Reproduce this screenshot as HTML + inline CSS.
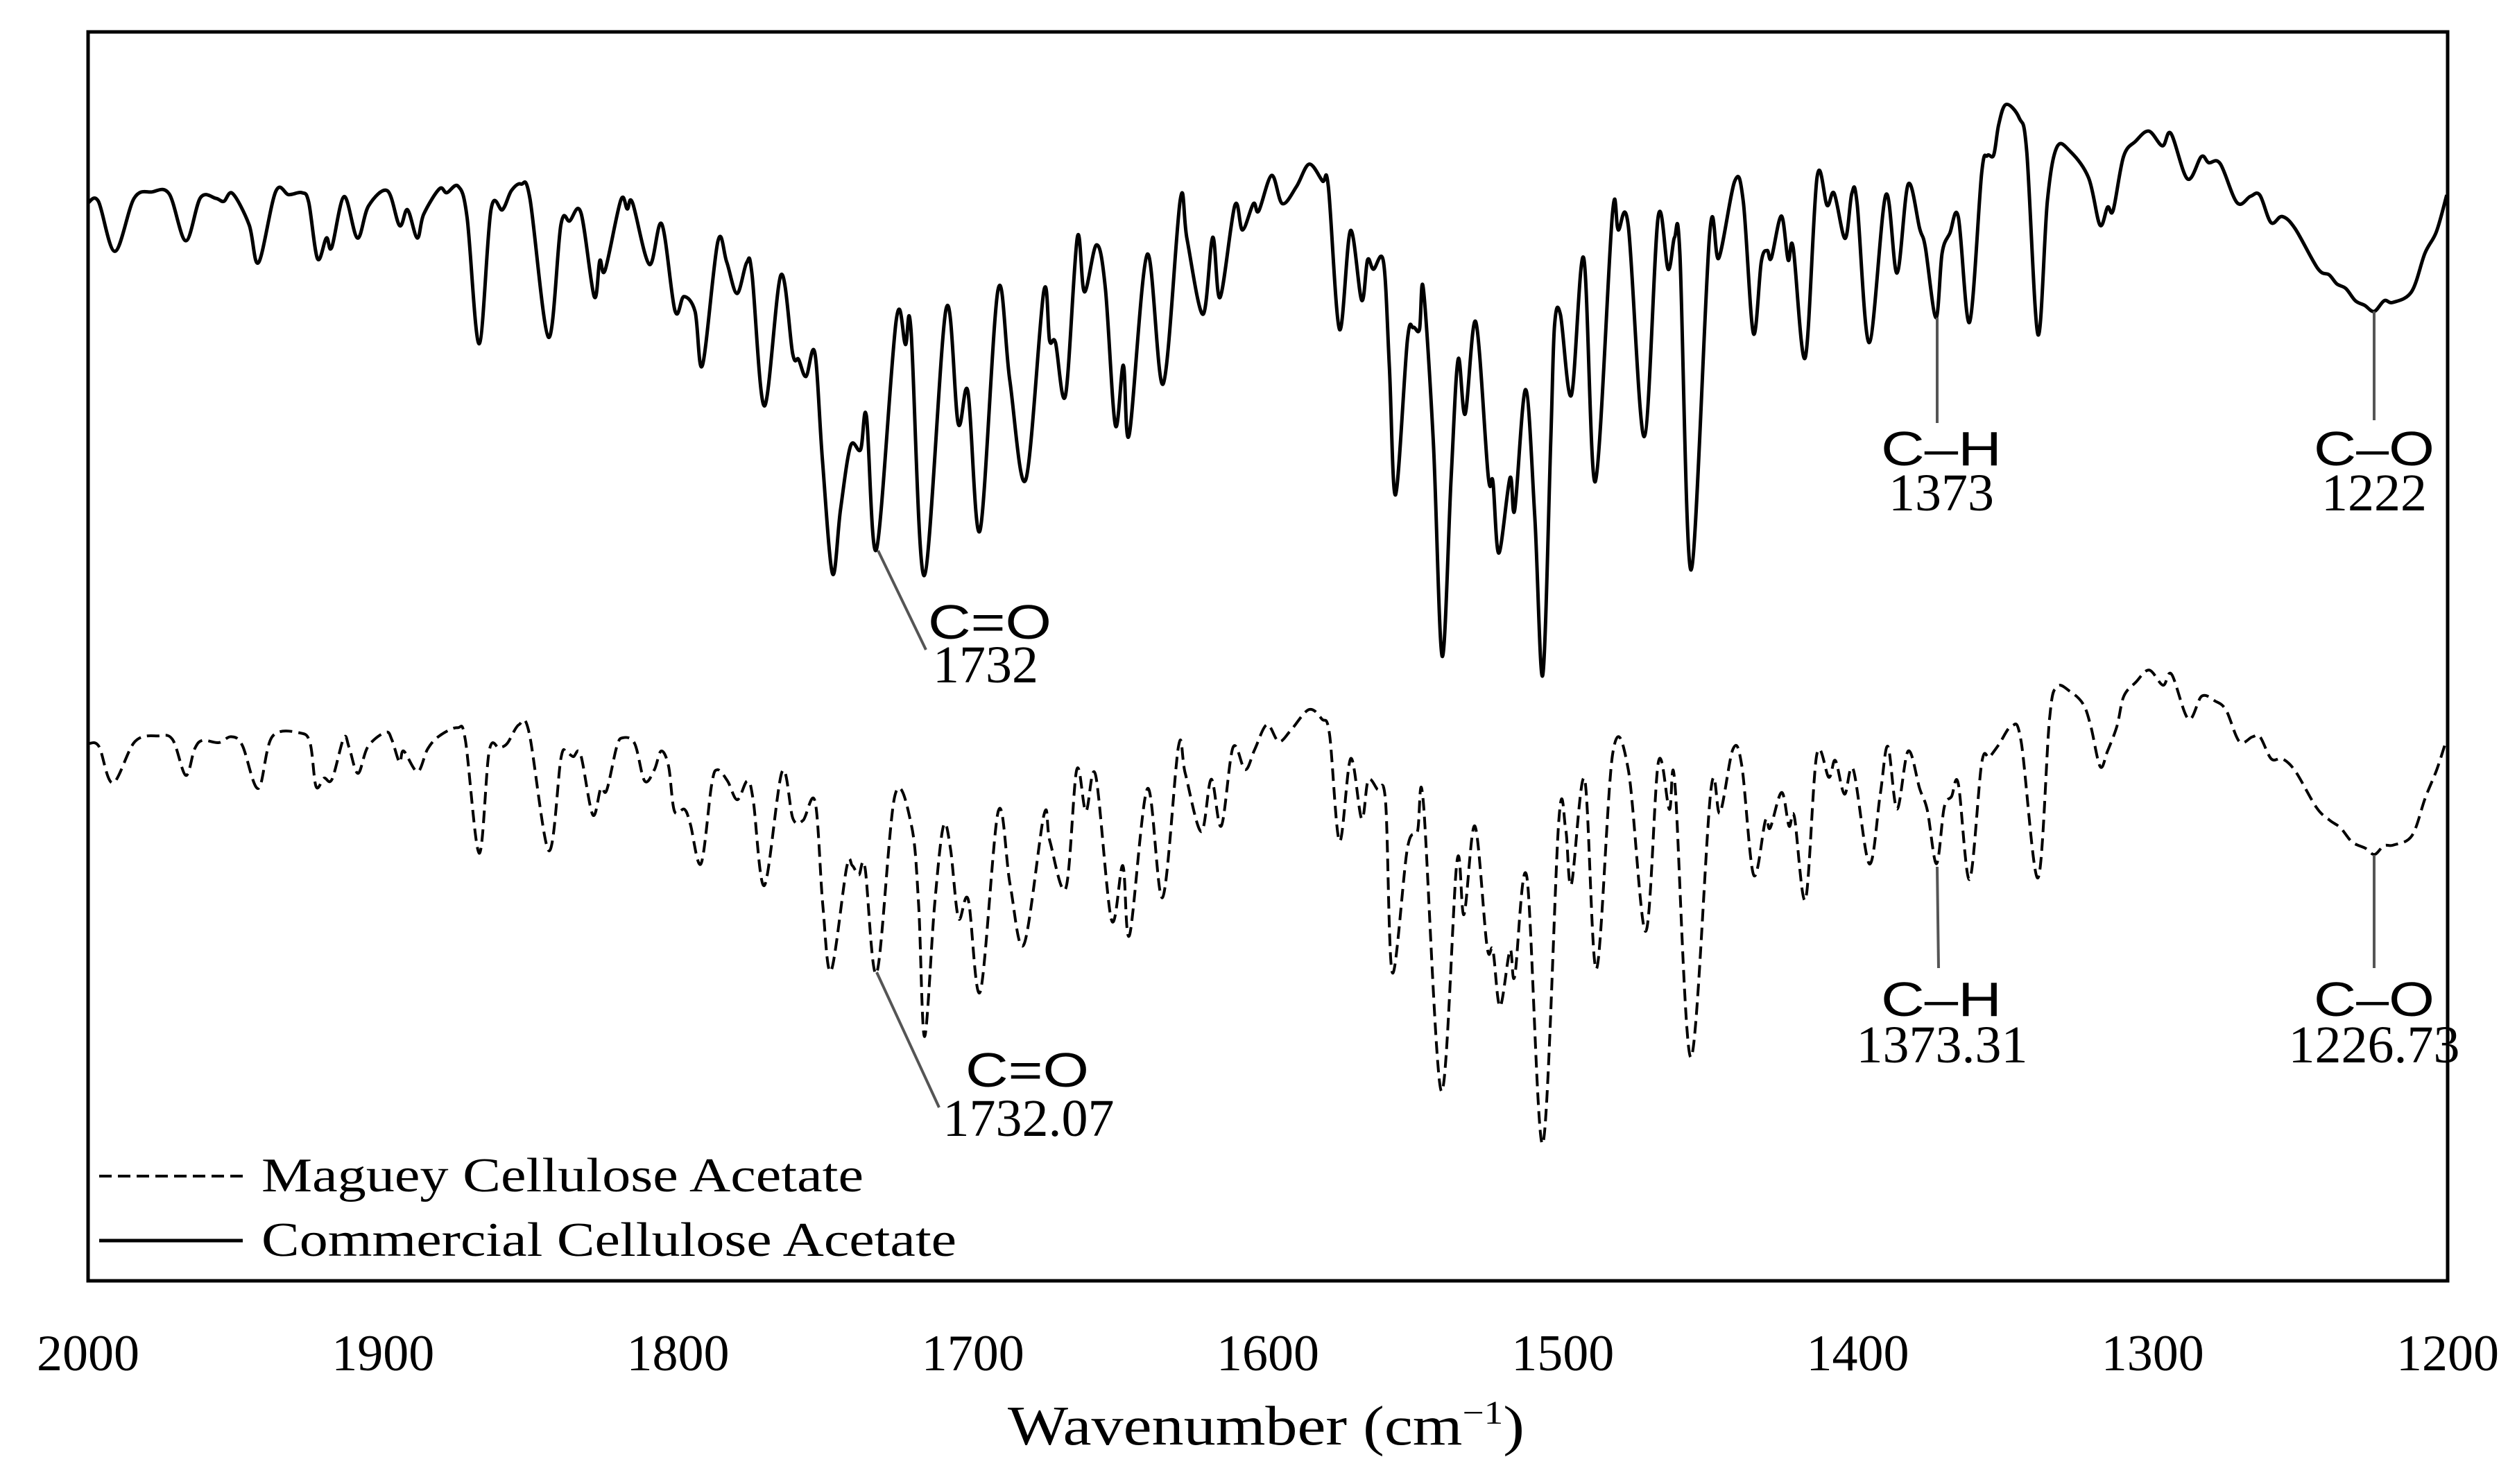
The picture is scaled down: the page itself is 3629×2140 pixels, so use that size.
<!DOCTYPE html>
<html><head><meta charset="utf-8"><style>
html,body{margin:0;padding:0;background:#fff;}
svg{display:block;}
.tick{font-family:"Liberation Serif",serif;font-size:74px;fill:#000;}
.serif{font-family:"Liberation Serif",serif;fill:#000;}
.sans{font-family:"Liberation Sans",sans-serif;fill:#000;}
</style></head><body>
<svg id="chart" width="3629" height="2140" viewBox="0 0 3629 2140" xmlns="http://www.w3.org/2000/svg">
<rect x="0" y="0" width="3629" height="2140" fill="#fff"/>
<g id="series"></g>
<rect x="127" y="46" width="3402" height="1801" fill="none" stroke="#000" stroke-width="5"/>
<g id="ticks"></g>
<text class="serif" x="1453" y="2083" font-size="80" textLength="745" lengthAdjust="spacingAndGlyphs">Wavenumber (cm<tspan font-size="48" dy="-30">−1</tspan><tspan dy="30">)</tspan></text>
<g>
<line x1="143" y1="1696" x2="350" y2="1696" stroke="#000" stroke-width="4" stroke-dasharray="18,9"/>
<text class="serif" x="377" y="1718" font-size="70" textLength="868" lengthAdjust="spacingAndGlyphs">Maguey Cellulose Acetate</text>
<line x1="143" y1="1789" x2="350" y2="1789" stroke="#000" stroke-width="5"/>
<text class="serif" x="377" y="1811" font-size="70" textLength="1002" lengthAdjust="spacingAndGlyphs">Commercial Cellulose Acetate</text>
</g>
<g stroke="#555" stroke-width="4">
<line x1="1266" y1="794" x2="1335" y2="937"/>
<line x1="2793" y1="458" x2="2793" y2="610"/>
<line x1="3423" y1="449" x2="3423" y2="606"/>
<line x1="1264" y1="1402" x2="1354" y2="1597"/>
<line x1="2793" y1="1250" x2="2795" y2="1396"/>
<line x1="3423" y1="1233" x2="3423" y2="1396"/>
</g>
<g>
<text class="sans" x="1338" y="921" font-size="70" textLength="178" lengthAdjust="spacingAndGlyphs">C=O</text>
<text class="serif" x="1421" y="984" font-size="76" text-anchor="middle">1732</text>
<text class="sans" x="2712" y="671" font-size="70" textLength="174" lengthAdjust="spacingAndGlyphs">C–H</text>
<text class="serif" x="2799" y="736" font-size="76" text-anchor="middle">1373</text>
<text class="sans" x="3336" y="671" font-size="70" textLength="174" lengthAdjust="spacingAndGlyphs">C–O</text>
<text class="serif" x="3423" y="736" font-size="76" text-anchor="middle">1222</text>
<text class="sans" x="1392" y="1567" font-size="70" textLength="178" lengthAdjust="spacingAndGlyphs">C=O</text>
<text class="serif" x="1483" y="1638" font-size="76" text-anchor="middle">1732.07</text>
<text class="sans" x="2712" y="1465" font-size="70" textLength="174" lengthAdjust="spacingAndGlyphs">C–H</text>
<text class="serif" x="2800" y="1532" font-size="76" text-anchor="middle">1373.31</text>
<text class="sans" x="3336" y="1465" font-size="70" textLength="174" lengthAdjust="spacingAndGlyphs">C–O</text>
<text class="serif" x="3423" y="1532" font-size="76" text-anchor="middle">1226.73</text>
</g>
</svg>
<script>
var tickValues=[2000,1900,1800,1700,1600,1500,1400,1300,1200];
var tickLabels=["2000","1900","1800","1700","1600","1500","1400","1300","1200"];
var commercialWave=[2000,1996.5,1990.9,1984.4,1978.4,1972.5,1966.9,1961.9,1956.7,1954.0,1951.0,1945.4,1942.2,1936.4,1932.0,1927.5,1925.2,1922.2,1919.2,1917.4,1913.2,1908.7,1904.9,1898.5,1894.4,1891.7,1888.4,1886.2,1880.9,1878.4,1874.5,1871.5,1867.4,1863.4,1859.5,1856.5,1853.2,1850.2,1843.9,1839.7,1836.7,1832.9,1828.4,1826.5,1824.7,1819.4,1817.2,1815.4,1809.7,1805.5,1801.0,1798.0,1794.2,1791.7,1786.5,1783.5,1780.0,1776.7,1774.9,1770.7,
1765.1,1761.1,1759.1,1756.6,1753.6,1751.0,1747.6,1744.9,1741.5,1738.1,1736.1,1732.7,1726.0,1722.9,1721.0,1716.5,1709.1,1705.0,1701.7,1697.6,1691.5,1687.5,1682.1,1676.0,1674.0,1672.0,1668.6,1664.6,1662.2,1658.1,1655.1,1651.7,1649.0,1647.0,1640.9,1635.5,1629.7,1627.4,1622.0,1618.7,1616.2,1611.2,1608.6,1604.9,1603.1,1598.7,1595.1,1590.3,1586.0,1581.5,1579.5,
1575.7,1572.0,1568.2,1566.2,1564.2,1560.8,1558.8,1556.7,1552.7,1550.7,1548.6,1547.3,1543.9,1540.9,1537.9,1535.5,1533.1,1529.5,1525.3,1523.7,1521.7,1517.9,1516.3,1512.6,1509.5,1506.8,1504.1,1502.8,1500.8,1497.1,1492.9,1489.0,1483.2,1481.2,1477.8,1472.4,1467.7,1464.3,1462.1,1460.3,1456.5,1450.2,1447.1,1441.7,1438.8,1435.4,1432.7,1430.7,1429.3,1425.9,1423.6,1421.9,1417.8,1413.8,1410.4,1408.0,1404.3,1402.0,1400.2,1396.1,
1390.5,1386.7,1382.9,1379.0,1377.1,1373.5,1371.4,1368.8,1365.9,1362.1,1358.0,1356.1,1353.9,1352.2,1349.7,1345.2,1342.7,1338.9,1335.7,1332.5,1328.0,1321.7,1317.9,1315.3,1313.4,1309.9,1305.8,1301.3,1296.7,1293.8,1288.2,1283.5,1281.0,1277.1,1271.4,1266.9,1263.7,1259.9,1256.1,1251.7,1244.0,1240.2,1237.6,1234.5,1231.3,1228.1,1224.9,1221.5,1218.5,1212.2,1207.7,1203.8,1200.3];
var commercialDepth=[126.4,125.5,156.6,123.6,119.6,120.8,150,123.2,123.6,125.5,120.6,140.1,163.6,119.4,121.3,120.1,126,161.3,148.3,154.2,122.5,148.3,128.3,118.9,140.6,130.7,148.3,133.5,117.7,120.1,116.1,135.4,214.2,130.7,130.7,118.9,114.7,123.6,210.2,140.1,137.7,132.6,184.8,162.4,168.3,124.8,130.2,126.4,164.8,139.6,193.7,184.8,194.2,227.6,150.7,163.2,182.9,163.6,170.7,253,
171.4,220.5,224,234.6,219.8,287.3,357.5,317.7,277.9,280.3,259.2,342.3,199.5,214.7,205.3,358.7,192.4,263.9,244,330.6,180.7,236.9,299,181.9,212.3,213.5,246.3,147.9,181.9,152.6,179.6,265,227.6,270.9,158.5,239.3,124.5,149.1,195.9,147.9,185.4,128,143.3,126.9,131.5,109.3,126.9,116.3,102.3,112.8,116.3,
205.3,143.7,187.1,162,167.8,163.2,228.7,308.4,212.3,204.1,205.3,179.6,275.6,409,299,224,258,200.6,296.6,300.2,344.7,297.8,317.7,242.8,322.4,420.8,275.6,203,196,246.3,160.8,300.2,133.9,143.3,140.9,272.1,135.5,167.8,147.9,158.5,355.2,145.6,160.8,112.8,125.7,207.7,163.2,156.1,160.8,134.6,162,154.3,222.9,110.5,128,120.5,148.6,120.5,126.9,213.5,
121.5,170.2,114.8,142.5,154,198,157.8,145.4,135.2,200.8,108.1,97,96.6,77.5,65.1,73.7,94.7,208.5,125.3,91.8,94.3,111,140.2,129.1,131,97.6,88,81.7,90.9,83.2,111.5,97.6,101.4,102,126.3,122.4,121.5,138.7,134.9,142.5,167.4,171.2,176.9,179.8,187.4,190.3,194.1,187.4,188.4,181.7,157.8,144.4,121.5];
var magueyWave=[1999.7,1996.3,1991.6,1984.1,1976.1,1971.3,1966.9,1963.9,1961.2,1955.7,1951.5,1947.7,1942.3,1937.6,1928.1,1924.7,1922.7,1920.0,1917.3,1913.3,1911.5,1908.5,1905.1,1899.1,1897.0,1894.4,1893.0,1888.3,1884.9,1880.9,1874.8,1872.1,1867.4,1864.0,1860.6,1857.9,1853.9,1850.5,1843.8,1839.7,1837.7,1835.5,1833.0,1828.9,1826.2,1824.2,1820.8,1818.8,1814.7,1811.3,1808.0,1805.7,1803.2,1801.2,1797.8,1795.8,1792.2,
1788.6,1786.6,1783.2,1779.9,1776.5,1774.5,1770.7,1764.7,1761.0,1757.6,1753.5,1750.9,1748.1,1742.8,1740.9,1738.7,1736.6,1732.6,1726.5,1720.8,1718.4,1716.4,1713.0,1710.0,1707.6,1704.9,1701.6,1697.5,1691.4,1687.4,1682.7,1675.9,1673.9,1668.5,1664.8,1661.7,1658.4,1653.0,1649.2,1646.9,1640.8,1635.7,1630.3,1628.0,1622.6,1619.2,1615.8,1611.8,1607.7,1604.4,1600.3,1596.3,1592.2,1586.1,
1581.7,1579.1,1575.7,1571.9,1568.2,1566.0,1562.9,1560.1,1557.8,1552.7,1549.3,1547.3,1541.2,1535.9,1533.5,1529.8,1525.7,1523.7,1521.3,1517.9,1516.3,1512.2,1506.8,1501.4,1499.0,1497.1,1492.6,1488.6,1483.1,1477.8,1471.9,1467.6,1463.9,1462.0,1456.6,1449.8,1446.7,1442.3,1439.3,1435.3,1431.3,1429.7,1425.8,1423.3,1421.5,1417.7,1413.9,1409.8,1407.6,1404.5,1401.5,1396.1,
1392.4,1389.8,1386.7,1382.9,1379.0,1376.4,1373.3,1370.7,1368.2,1365.9,1362.1,1358.0,1355.4,1352.2,1347.8,1344.6,1338.9,1335.0,1332.5,1328.0,1323.6,1321.0,1317.8,1315.3,1312.1,1309.8,1305.7,1301.2,1296.5,1293.6,1287.9,1283.4,1278.9,1275.1,1270.6,1266.2,1263.6,1259.8,1256.0,1251.6,1244.5,1240.1,1236.3,1232.4,1227.9,1224.8,1221.6,1218.4,1212.1,1207.6,1203.7,1200.6];
var magueyDepth=[463.3,465.2,487.9,462.1,458.6,461,483.2,466.8,461.4,462.8,459.1,464.5,491.4,459.1,456.8,463.3,490.2,484.9,485.6,459.8,465.7,482,465.2,456.3,461,475,468,480.9,466.8,458.6,453.5,461,531.7,468,466.1,463.3,451.6,456.3,530.1,472.7,469.2,471.5,470.3,507.8,491.4,492.6,465.7,459.8,463.3,486.7,479.7,468,477.4,505.5,504.3,513.7,538.3,
489.1,479.7,486.7,498.4,486.7,498.4,551.8,480.9,510.2,511.3,499.6,564,605,540.6,539.4,545.3,540.6,606.2,496.1,514.8,564,646,564,514.8,528.9,572.2,560.5,617.9,505.5,551.1,588.6,507.8,524.2,553.5,479.7,505.5,483.2,573.4,539.4,582.7,491.4,559.3,465.2,482,518.3,485.6,514.8,465.7,479.7,466.8,451.6,462.1,455.1,442.2,
448.1,457.5,524.2,472.7,510.2,486.3,491.9,499.6,606.2,528.9,518.3,499.6,679.9,537.1,569.9,514.8,589.8,592.1,627.2,592.1,608.5,546.5,712.7,512.5,517.2,551.1,485.6,603.8,469.9,479.7,580.4,475,504.3,487.9,658.9,492.6,506.6,466.8,477.4,545.3,511.3,516,493.8,514.8,509,560.5,470.3,484.4,473.9,494.9,479.7,538.3,
495.4,465.1,504.2,468,491.5,505.1,538.3,503.2,496.4,488.5,548.1,475.8,471.9,464.1,452.4,462.2,547.1,448.5,428,430.9,438.7,452.4,477.8,468,452.4,433.9,425.1,417.6,427,420.2,448.1,433.9,436.8,442.6,462.2,459.2,459.2,472.9,472.9,480.7,503.2,511,515.9,524.7,528.6,532.5,527,526.6,520.8,497.3,479.7,462.2];

var NS='http://www.w3.org/2000/svg';
var X0=127,X1=3529,WMAX=2000,WMIN=1200,K=2.314;
function xS(w){return X0+(WMAX-w)/(WMAX-WMIN)*(X1-X0);}
function yS(d){return d*K;}
function pathFrom(ws,ds){
  var P=[];
  for(var i=0;i<ws.length;i++){P.push([xS(ws[i]),yS(ds[i])]);}
  var s='M'+P[0][0].toFixed(1)+','+P[0][1].toFixed(1);
  for(var j=0;j<P.length-1;j++){
    var p0=P[j-1]||P[j],p1=P[j],p2=P[j+1],p3=P[j+2]||P[j+1];
    var c1x=p1[0]+(p2[0]-p0[0])/6,c1y=p1[1]+(p2[1]-p0[1])/6;
    var c2x=p2[0]-(p3[0]-p1[0])/6,c2y=p2[1]-(p3[1]-p1[1])/6;
    s+='C'+c1x.toFixed(1)+','+c1y.toFixed(1)+' '+c2x.toFixed(1)+','+c2y.toFixed(1)+' '+p2[0].toFixed(1)+','+p2[1].toFixed(1);
  }
  return s;
}
var g=document.getElementById('series');
var p1=document.createElementNS(NS,'path');
p1.setAttribute('d',pathFrom(commercialWave,commercialDepth));
p1.setAttribute('fill','none');p1.setAttribute('stroke','#000');p1.setAttribute('stroke-width','5');p1.setAttribute('stroke-linejoin','round');


g.appendChild(p1);
var p2=document.createElementNS(NS,'path');
p2.setAttribute('d',pathFrom(magueyWave,magueyDepth));
p2.setAttribute('fill','none');p2.setAttribute('stroke','#000');p2.setAttribute('stroke-width','4');p2.setAttribute('stroke-dasharray','18,9');p2.setAttribute('stroke-linejoin','round');


g.appendChild(p2);
var tg=document.getElementById('ticks');
for(var i=0;i<tickValues.length;i++){
  var t=document.createElementNS(NS,'text');
  t.setAttribute('x',xS(tickValues[i]));t.setAttribute('y',1976);
  t.setAttribute('text-anchor','middle');t.setAttribute('class','tick');
  t.textContent=tickLabels[i];
  
  
  tg.appendChild(t);
}
</script>
</body></html>
